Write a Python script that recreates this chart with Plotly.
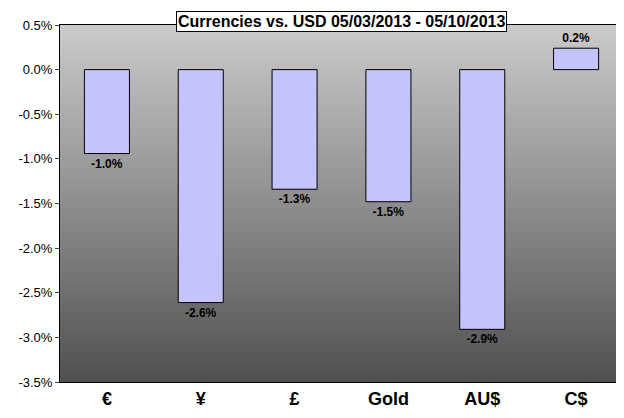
import plotly.graph_objects as go
import numpy as np

categories = ["€", "¥", "£", "Gold", "AU$", "C$"]
values = [-0.94, -2.61, -1.34, -1.48, -2.91, 0.24]
labels = ["-1.0%", "-2.6%", "-1.3%", "-1.5%", "-2.9%", "0.2%"]
tick_vals = [0.5, 0.0, -0.5, -1.0, -1.5, -2.0, -2.5, -3.0, -3.5]
tick_text = ["0.5%", "0.0%", "-0.5%", "-1.0%", "-1.5%", "-2.0%", "-2.5%", "-3.0%", "-3.5%"]

xs = list(range(len(categories)))
ygrid = np.linspace(-3.5, 0.5, 80)

fig = go.Figure()
fig.add_trace(go.Heatmap(x=[-0.5, len(categories) - 0.5], y=ygrid,
                         z=[[v, v] for v in ygrid], showscale=False, hoverinfo="skip",
                         colorscale=[[0, "#505050"], [1, "#cbcbcb"]]))
fig.add_trace(go.Bar(x=xs, y=values, width=0.48, text=["<b>%s</b>" % t for t in labels],
                     textposition="outside", cliponaxis=False,
                     textfont=dict(family="Arial, Liberation Sans", size=12, color="black"),
                     marker=dict(color="#c4c4fa", line=dict(color="black", width=1))))
fig.update_layout(
    width=624, height=418, margin=dict(l=52, r=9, t=17, b=44),
    paper_bgcolor="white", plot_bgcolor="#999", showlegend=False,
    font=dict(family="Liberation Sans, Arial", color="black"),
    xaxis=dict(range=[-0.5, len(categories) - 0.5], tickvals=xs,
               ticktext=["<b>%s</b>" % c for c in categories],
               tickfont=dict(size=18), showgrid=False, zeroline=False,
               showline=True, linecolor="black", mirror=True),
    yaxis=dict(range=[-3.5, 0.5], tickvals=tick_vals, ticktext=tick_text,
               tickfont=dict(size=13), showgrid=False, zeroline=True,
               zerolinecolor="black", zerolinewidth=1,
               showline=True, linecolor="black", mirror=True,
               ticks="outside", ticklen=4),
)
fig.add_annotation(text="<b>Currencies vs. USD 05/03/2013 - 05/10/2013</b>",
                   xref="paper", yref="paper", x=0.5, y=1.04, xanchor="center", yanchor="top",
                   showarrow=False, font=dict(size=16, color="black"),
                   bgcolor="white", bordercolor="black", borderwidth=1, borderpad=1)
fig.write_html("out.html")
